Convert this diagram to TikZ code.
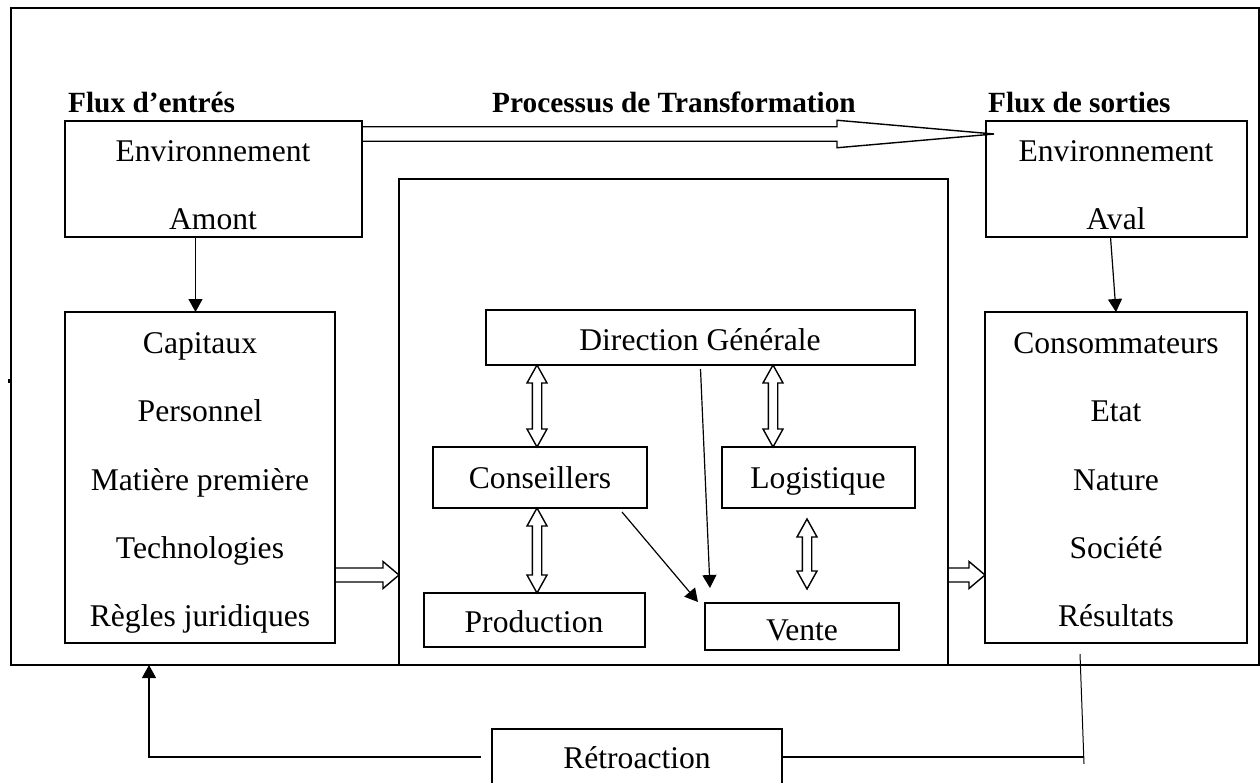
\documentclass[tikz,border=0pt]{standalone}
\usepackage{fontspec}
\setmainfont{Liberation Serif}
\usetikzlibrary{arrows.meta,calc}
\begin{document}
\begin{tikzpicture}[x=1pt,y=-1pt,
  box/.style={draw, line width=1.4pt, inner sep=0pt, outer sep=0pt, anchor=north west},
  txt/.style={anchor=base, inner sep=0pt, font=\fontsize{31.6}{36}\selectfont},
  hd/.style={anchor=base west, inner sep=0pt, font=\fontsize{29.3}{34}\selectfont\bfseries},
  arr/.style={-{Triangle[length=13pt,width=14pt]}, line width=1.2pt},
  thin/.style={line width=1.2pt},
  hollow/.style={draw, line width=1.4pt, fill=white, line join=miter}]
\useasboundingbox (0,0) rectangle (1260,782);

% boxes
\node[box, line width=1.8pt, minimum width=1248pt, minimum height=657pt] (frame) at (11,8) {};
\node[box, minimum width=297pt, minimum height=116pt] (amont) at (65,121) {};
\node[box, minimum width=261pt, minimum height=116pt] (aval) at (986,121) {};
\node[box, minimum width=270pt, minimum height=331pt] (capitaux) at (65,312) {};
\node[box, minimum width=262pt, minimum height=331pt] (conso) at (985,312) {};
\node[box, minimum width=549pt, minimum height=486pt] (middle) at (399,179) {};
\node[box, minimum width=429pt, minimum height=55pt] (direction) at (486,310) {};
\node[box, minimum width=214pt, minimum height=61pt] (conseillers) at (433,447) {};
\node[box, minimum width=193pt, minimum height=61pt] (logistique) at (722,447) {};
\node[box, minimum width=221pt, minimum height=54pt] (production) at (424,593) {};
\node[box, minimum width=194pt, minimum height=47pt] (vente) at (705,603) {};
\node[box, line width=1.2pt, minimum width=290pt, minimum height=56pt] (retro) at (492,729) {};

% headings
\node[hd] (h1) at (68,112) {Flux d’entrés};
\node[hd, anchor=base] (h2) at (674,112) {Processus de Transformation};
\node[hd] (h3) at (988,112) {Flux de sorties};

% texts
\node[txt] (t1) at (213,161) {Environnement};
\node[txt] (t2) at (213,229) {Amont};
\node[txt] (t3) at (1116,161) {Environnement};
\node[txt] (t4) at (1116,229) {Aval};
\node[txt] (c1) at (200,353) {Capitaux};
\node[txt] (c2) at (200,421) {Personnel};
\node[txt] (c3) at (200,490) {Matière première};
\node[txt] (c4) at (200,558) {Technologies};
\node[txt] (c5) at (200,626) {Règles juridiques};
\node[txt] (s1) at (1116,353) {Consommateurs};
\node[txt] (s2) at (1116,421) {Etat};
\node[txt] (s3) at (1116,490) {Nature};
\node[txt] (s4) at (1116,558) {Société};
\node[txt] (s5) at (1116,626) {Résultats};
\node[txt] (td) at (700,350) {Direction Générale};
\node[txt] (tc) at (540,488) {Conseillers};
\node[txt] (tl) at (818,488) {Logistique};
\node[txt] (tp) at (534,632) {Production};
\node[txt] (tv) at (802,640) {Vente};
\node[txt] (tr) at (637,768) {Rétroaction};

% big hollow arrow on top
\coordinate (ta) at (amont.north east);
\coordinate (tb) at ([xshift=8pt,yshift=-13pt]aval.north west);
\path let \p1=(ta), \p2=(tb) in
  [draw, line width=1.4pt, line join=miter]
  (\x1,\y2+7.25pt) -- (\x2-157pt,\y2+7.25pt) -- (\x2-157pt,\y2+13.75pt) -- (\x2,\y2)
  -- (\x2-157pt,\y2-13.75pt) -- (\x2-157pt,\y2-7.25pt) -- (\x1,\y2-7.25pt);

% vertical double hollow arrows
\newcommand{\vdbl}[2]{%
  \path let \p1=(#1), \p2=(#2) in
  [hollow] (\x1,\y1) -- (\x1+10pt,\y1-18pt) -- (\x1+4.7pt,\y1-18pt) -- (\x1+4.7pt,\y2+18pt)
  -- (\x1+10pt,\y2+18pt) -- (\x1,\y2) -- (\x1-10pt,\y2+18pt) -- (\x1-4.7pt,\y2+18pt)
  -- (\x1-4.7pt,\y1-18pt) -- (\x1-10pt,\y1-18pt) -- cycle;}
\vdbl{[xshift=51pt]direction.south west}{[xshift=104pt]conseillers.north west}
\vdbl{[xshift=287pt]direction.south west}{[xshift=51pt]logistique.north west}
\vdbl{[xshift=104pt]conseillers.south west}{[xshift=113pt]production.north west}
\vdbl{[xshift=85pt,yshift=-11pt]logistique.south west}{[xshift=102pt,yshift=14pt]vente.north west}

% horizontal hollow arrows
\newcommand{\hsgl}[2]{%
  \path let \p1=(#1), \p2=(#2) in
  [draw, line width=1.4pt, line join=miter]
  (\x1,\y2+7pt) -- (\x2-16pt,\y2+7pt) -- (\x2-16pt,\y2+13.5pt) -- (\x2,\y2)
  -- (\x2-16pt,\y2-13.5pt) -- (\x2-16pt,\y2-7pt) -- (\x1,\y2-7pt);}
\coordinate (ha) at (capitaux.east);
\coordinate (hb) at ([yshift=-153pt]middle.west);
\hsgl{ha}{hb}
\coordinate (hc) at (middle.east);
\coordinate (hd) at ([yshift=-153pt]middle.west -| conso.west);
\hsgl{hc}{hd}

% simple arrows
\draw[arr] ([xshift=-18pt]amont.south) -- ([xshift=-18pt]amont.south |- capitaux.north);
\draw[arr] ([xshift=-6pt]aval.south) -- (conso.north);
\draw[arr] ([yshift=-4pt]direction.south) -- ([xshift=5pt,yshift=15pt]vente.north west);
\draw[arr] ([xshift=-25pt,yshift=-4pt]conseillers.south east) -- ([xshift=-7pt,yshift=1pt]vente.north west);

% retroaction loop
\coordinate (fb) at ([xshift=84pt]capitaux.south west |- frame.south);
\draw[arr] ([xshift=-11pt]retro.west) -| (fb);
\coordinate (r1) at ([xshift=95pt,yshift=-11pt]conso.south west);
\coordinate (r2) at ([xshift=99pt,yshift=-121pt]conso.south west);
\draw[thin] (retro.east) -- (retro.east -| r2);
\draw[line width=1pt] (r1) -- (r2);

% small tick on the frame
\fill (7.5,378.5) rectangle (10.5,382.5);
\end{tikzpicture}
\end{document}
